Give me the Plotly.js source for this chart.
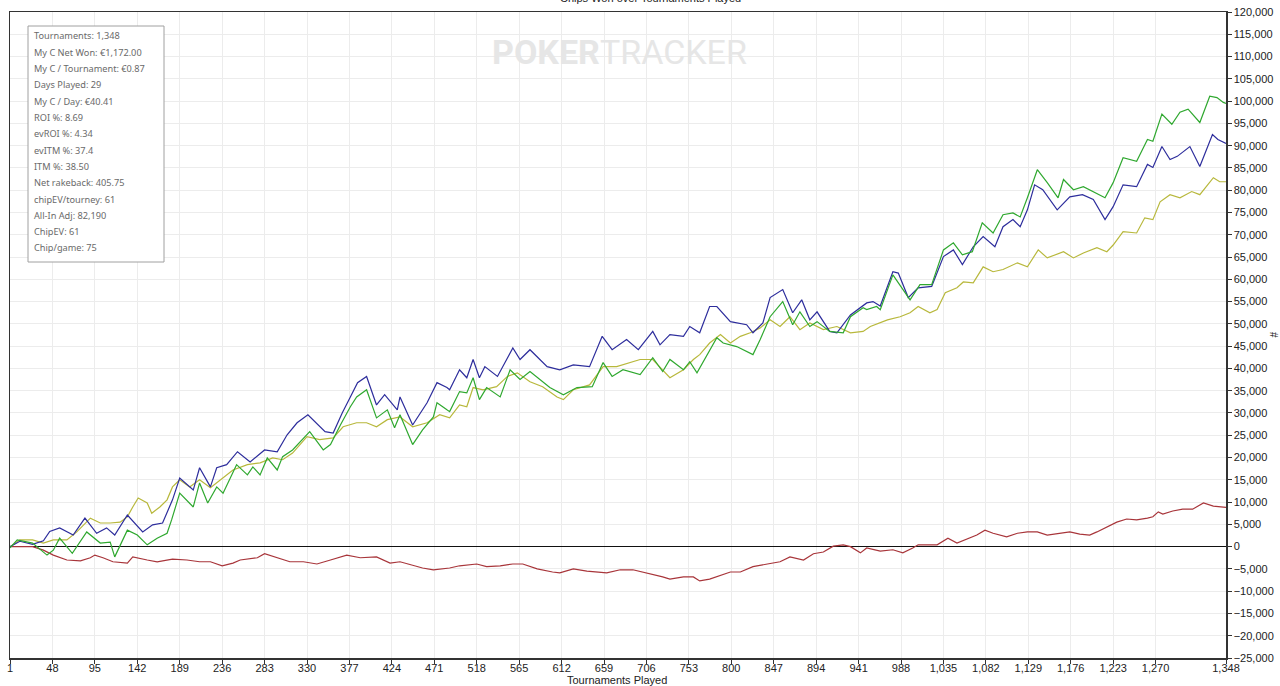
<!DOCTYPE html>
<html><head><meta charset="utf-8">
<script src="https://cdn.plot.ly/plotly-3.0.1.min.js"></script>
<style>html,body{margin:0;padding:0;background:#fff;}#chart{width:1280px;height:686px;}</style>
</head><body><div id="chart"></div>
<script>
// ---- data ----
const blueT = [1,12,26,38,45,56,71,84,97,108,117,131,148,159,170,181,189,204,211,223,230,241,253,267,283,297,308,319,331,350,359,369,378,386,396,407,416,430,433,447,463,474,485,488,499,507,514,521,527,541,558,566,577,596,610,625,643,657,668,684,697,713,721,732,747,754,765,776,784,799,817,824,835,843,857,868,878,887,895,909,917,932,950,957,965,979,985,996,1007,1022,1035,1046,1056,1068,1079,1092,1101,1112,1120,1128,1136,1145,1161,1175,1189,1201,1214,1223,1234,1249,1261,1267,1277,1286,1294,1308,1319,1333,1339,1345,1348];
const blueV = [0,1200,500,1300,3400,4200,2600,6400,3000,4200,2600,7100,3300,4900,5300,10500,15400,12700,17700,13400,17700,18400,21300,19000,21700,21300,25100,27800,29600,25800,25500,30000,33600,36800,38200,31800,34100,30700,33600,27300,32300,36800,35700,35200,39700,37900,42000,37900,40400,38200,44600,42000,44200,40400,39700,40800,40400,47200,44200,46500,44200,48300,45300,47600,47200,49400,48000,53900,53900,50500,49800,48000,50200,55900,57700,52500,55400,50900,52700,48300,48000,52000,54700,55000,54000,61700,61400,55900,58100,58400,65100,66600,63300,67300,69600,67300,71800,73400,71800,75600,81200,80100,75600,78500,79000,77900,73400,76300,81200,80800,85800,85100,89800,86900,87600,89800,85300,92500,91400,90700,90500];

const greenT = [1,9,26,42,49,56,70,86,101,112,117,131,142,153,164,175,180,189,204,211,220,230,237,252,264,270,278,286,297,303,314,322,333,348,356,367,378,385,396,407,419,427,433,447,458,470,474,485,488,499,507,514,521,529,544,555,566,577,599,614,629,646,658,668,680,699,713,724,732,747,754,762,776,784,791,806,824,832,843,857,868,876,887,895,909,924,932,946,950,961,965,979,998,1009,1022,1035,1046,1056,1067,1078,1090,1101,1112,1120,1128,1139,1150,1162,1168,1179,1190,1201,1214,1223,1234,1249,1261,1267,1277,1288,1297,1306,1319,1330,1338,1345,1348];
const greenV = [-300,1500,800,-1900,-800,1900,-1500,3300,800,1000,-2300,3700,2600,400,1900,3000,6000,12000,8900,14300,9800,13400,12000,18400,16100,17900,16100,19900,17200,20200,21700,23500,25800,21700,22900,27300,31400,33600,35200,28900,30700,26700,29600,22900,26200,29100,32300,30700,30300,34800,34500,37900,33000,35700,33600,39700,37500,39300,35700,34100,35700,35900,41300,38200,39700,38600,42400,39300,42000,39700,41500,39000,44200,46900,45700,44900,43100,46500,51600,55000,49800,52700,49400,50500,48300,48000,51600,53600,53200,53900,53200,61000,55400,58800,58800,66600,68200,65500,66200,72700,70400,74500,74900,74000,78300,84600,81700,78300,82400,80100,80800,79700,78300,81700,87300,86500,91400,91000,97100,94800,97500,98200,95200,101100,100800,99700,99500];

const oliveT = [1,12,26,38,49,64,75,90,101,112,123,131,137,143,153,158,167,175,181,189,200,211,223,234,248,264,278,292,303,314,330,344,359,370,385,396,407,419,433,447,463,477,488,499,507,514,525,540,552,563,577,591,607,614,625,643,658,673,688,699,713,724,732,747,758,765,776,788,799,810,821,832,843,854,865,876,887,902,917,932,946,954,965,973,987,998,1007,1020,1028,1037,1050,1057,1068,1079,1090,1101,1117,1128,1140,1150,1168,1179,1190,1205,1216,1223,1234,1249,1258,1267,1275,1286,1297,1310,1319,1334,1341,1348];
const oliveV = [0,1500,1500,800,1500,1500,3300,6400,5300,5300,5500,6700,8900,10900,9800,7500,8900,10500,13400,15000,13400,15000,13200,15000,17200,18400,18800,19900,19500,21000,24700,24000,24400,26900,27800,27800,26900,28500,29100,26900,27800,29600,28900,31800,31400,35700,35200,35900,38200,39000,37000,35900,33600,33000,35200,36300,40400,40400,41300,42000,42000,39700,37900,39700,42000,43100,45700,47600,45700,47200,48000,49100,50900,49400,51600,48700,50200,48700,49400,48000,48300,49400,50200,50900,51600,52500,53900,52500,53200,57000,58100,59400,59200,62800,61700,62200,63700,62800,66600,64800,66200,64800,65900,67100,66200,67700,70700,70400,73800,73400,77400,79000,78300,79700,79000,82800,81900,81900];

const redT = [1,20,26,38,49,64,79,90,95,104,115,131,137,153,164,181,197,211,223,236,248,256,275,283,297,311,326,341,356,374,389,407,422,433,458,470,488,499,518,529,544,558,569,585,602,610,625,640,662,677,691,707,724,732,747,758,765,776,788,799,810,824,840,854,865,880,891,902,913,924,932,943,950,965,979,990,1001,1007,1028,1040,1050,1064,1072,1081,1090,1105,1117,1128,1139,1150,1164,1175,1186,1197,1205,1216,1227,1238,1249,1261,1267,1273,1278,1289,1300,1311,1323,1334,1345,1348];
const redV = [0,0,0,-800,-1900,-3000,-3200,-2500,-1900,-2500,-3400,-3700,-2300,-3000,-3400,-2800,-3000,-3400,-3400,-4300,-3700,-3000,-2500,-1600,-2500,-3400,-3400,-3900,-3000,-1900,-2500,-2300,-3700,-3400,-4800,-5200,-4800,-4300,-3900,-4500,-4300,-3900,-3900,-5000,-5700,-5900,-5000,-5500,-5900,-5200,-5200,-5900,-6800,-7300,-6800,-6800,-7700,-7300,-6400,-5700,-5700,-4500,-3900,-3400,-2300,-3000,-1600,-1200,100,400,0,-1400,-300,-1000,-700,-1400,-300,400,400,1900,800,1900,2600,3700,3000,2200,3000,3300,3300,2600,3000,3300,2800,2600,3300,4400,5500,6200,6000,6400,6700,7800,7300,8000,8400,8400,9800,9100,8900,8800];

const xTicks = [1,48,95,142,189,236,283,330,377,424,471,518,565,612,659,706,753,800,847,894,941,988,1035,1082,1129,1176,1223,1270,1348];

const statLines = ["Tournaments: 1,348","My C Net Won: €1,172.00","My C / Tournament: €0.87","Days Played: 29","My C / Day: €40.41","ROI %: 8.69","evROI %: 4.34","evITM %: 37.4","ITM %: 38.50","Net rakeback: 405.75","chipEV/tourney: 61","All-In Adj: 82,190","ChipEV: 61","Chip/game: 75"];

const chartTitle = "Chips Won over Tournaments Played";
const xTitle = "Tournaments Played";
const yTitle = "#";

// ---- layout helpers ----
const W = 1280, H = 686;
const M = {l: 10, r: 54, t: 12, b: 28};
const PW = W - M.l - M.r, PH = H - M.t - M.b;
const px2x = p => (p - M.l) / PW;
const py2y = p => (H - M.b - p) / PH;

function line(t, v, color) {
  return {x: t, y: v, type: 'scatter', mode: 'lines', line: {color: color, width: 1.2}, hoverinfo: 'skip', showlegend: false};
}
const traces = [
  line(redT, redV, '#a8353a'),
  line(oliveT, oliveV, '#b8b83c'),
  line(blueT, blueV, '#2d2d9c'),
  line(greenT, greenV, '#2fa82f')
];

const annotations = [];
statLines.forEach((s, i) => {
  annotations.push({text: s, xref: 'paper', yref: 'paper', x: px2x(32), y: py2y(36 + i * 16.3),
    xanchor: 'left', yanchor: 'middle', showarrow: false,
    font: {family: 'Noto Sans, Open Sans, sans-serif', size: 9.2, color: '#6a6a6a'}});
});
annotations.push({text: chartTitle, xref: 'paper', yref: 'paper', x: px2x(650), y: py2y(-2),
  xanchor: 'center', yanchor: 'middle', showarrow: false, font: {size: 11, color: '#222'}});
annotations.push({text: xTitle, xref: 'paper', yref: 'paper', x: px2x(617), y: py2y(680),
  xanchor: 'center', yanchor: 'middle', showarrow: false, font: {size: 11, color: '#222'}});
annotations.push({text: yTitle, xref: 'paper', yref: 'paper', x: px2x(1274), y: py2y(335),
  xanchor: 'center', yanchor: 'middle', showarrow: false, textangle: 90, font: {size: 10, color: '#222'}});
annotations.push({text: '<b>POKER</b>TRACKER', xref: 'paper', yref: 'paper', x: px2x(619), y: py2y(52),
  xanchor: 'center', yanchor: 'middle', showarrow: false,
  font: {family: 'Roboto, Liberation Sans, sans-serif', size: 34, color: '#e6e6e6'}});

const layout = {
  width: W, height: H,
  margin: M,
  paper_bgcolor: '#ffffff', plot_bgcolor: '#ffffff',
  font: {family: 'Liberation Sans, Arial, sans-serif', size: 11, color: '#222'},
  showlegend: false,
  xaxis: {
    range: [1, 1348], tickvals: xTicks, tickformat: ',d',
    showgrid: true, gridcolor: '#ececec', gridwidth: 1,
    zeroline: false, showline: true, linecolor: '#333', linewidth: 1.5, mirror: true,
    ticks: 'outside', ticklen: 4, tickcolor: '#333', ticklabelstandoff: -5,
    tickfont: {size: 11, color: '#222'}
  },
  yaxis: {
    side: 'right', range: [-25000, 120000], dtick: 5000, tick0: 0, tickformat: ',d',
    showgrid: true, gridcolor: '#ececec', gridwidth: 1,
    zeroline: true, zerolinecolor: '#111', zerolinewidth: 1.3,
    showline: true, linecolor: '#333', linewidth: 1.5, mirror: true,
    ticks: 'outside', ticklen: 4, tickcolor: '#333', tickfont: {size: 11, color: '#222'}
  },
  shapes: [{type: 'rect', xref: 'paper', yref: 'paper', x0: px2x(28), x1: px2x(164), y0: py2y(262), y1: py2y(26),
    line: {color: '#a0a0a0', width: 1}, fillcolor: '#ffffff', layer: 'above'}],
  annotations: annotations
};

Plotly.newPlot('chart', traces, layout, {staticPlot: true, displayModeBar: false});
</script>
</body></html>
